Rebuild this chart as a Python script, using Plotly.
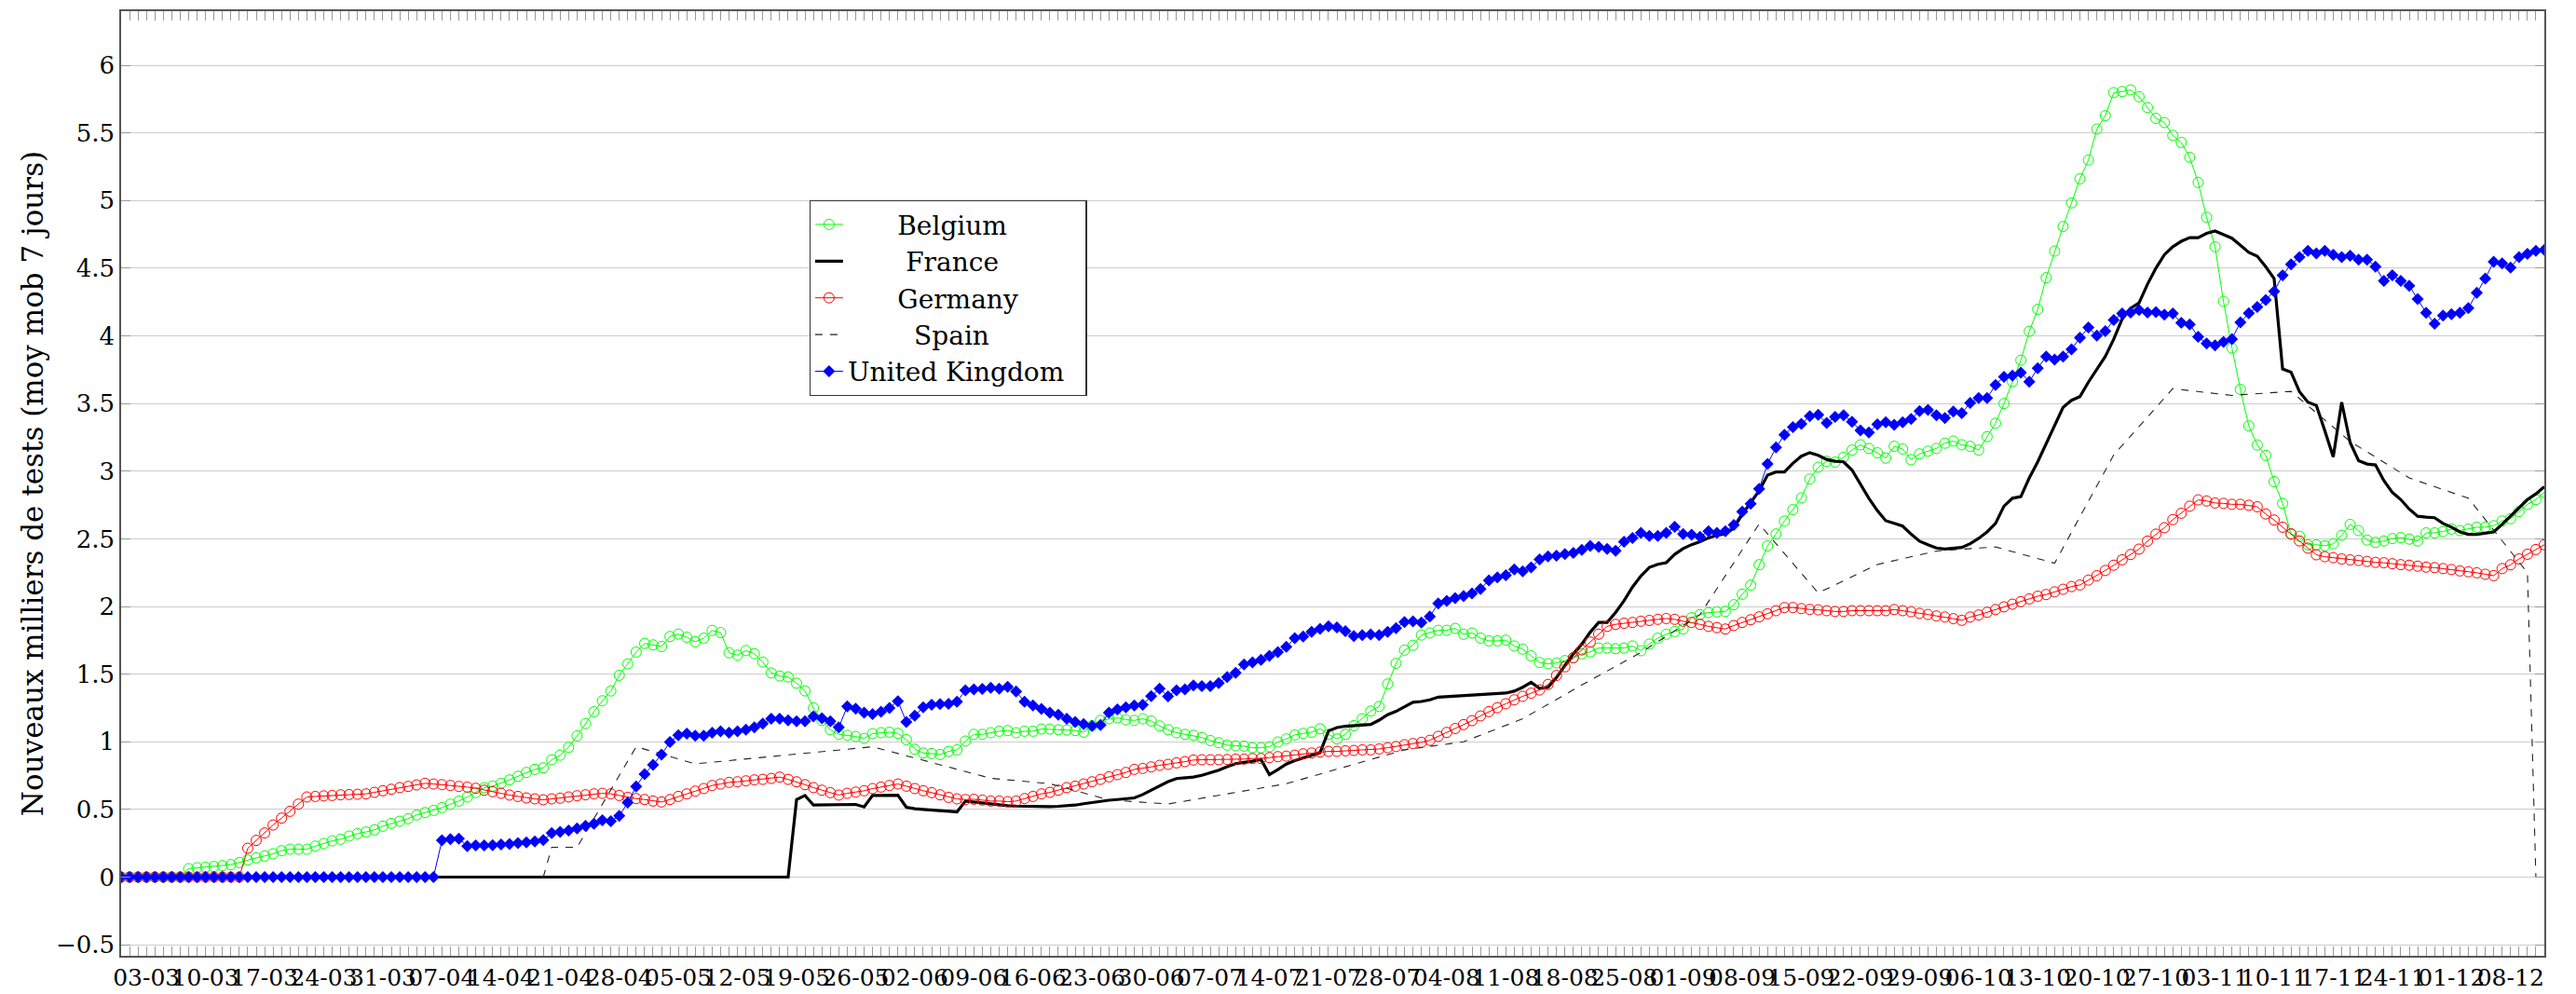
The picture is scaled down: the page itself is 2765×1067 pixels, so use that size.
import pandas as pd
import plotly.graph_objects as go

# daily categories (29-02-2020 .. 12-12-2020)
dates = pd.date_range("2020-02-29", "2020-12-12", freq="D").strftime("%Y-%m-%d").tolist()

tick_labels = ["03-03", "10-03", "17-03", "24-03", "31-03", "07-04", "14-04", "21-04", "28-04",
               "05-05", "12-05", "19-05", "26-05", "02-06", "09-06", "16-06", "23-06", "30-06",
               "07-07", "14-07", "21-07", "28-07", "04-08", "11-08", "18-08", "25-08", "01-09",
               "08-09", "15-09", "22-09", "29-09", "06-10", "13-10", "20-10", "27-10", "03-11",
               "10-11", "17-11", "24-11", "01-12", "08-12"]

belgium = [0, 0, 0, 0, 0, 0, 0, 0,
           0.062, 0.069, 0.073, 0.078, 0.085, 0.092, 0.108, 0.126, 0.142, 0.156, 0.172, 0.195,
           0.206, 0.206, 0.206, 0.229, 0.248, 0.268, 0.28, 0.303, 0.321, 0.333,
           0.349, 0.376, 0.397, 0.413, 0.431, 0.459, 0.477, 0.493, 0.514, 0.539,
           0.562, 0.592, 0.624, 0.661, 0.672, 0.693, 0.718, 0.745, 0.773, 0.796,
           0.807, 0.867, 0.901, 0.959, 1.044, 1.135, 1.222, 1.303, 1.376, 1.491,
           1.576, 1.663, 1.727, 1.716, 1.704, 1.778, 1.796, 1.773, 1.739, 1.766,
           1.823, 1.807, 1.658, 1.64, 1.674, 1.651, 1.589, 1.509, 1.486, 1.479,
           1.433, 1.376, 1.25, 1.158, 1.089, 1.055, 1.048, 1.039, 1.025, 1.06,
           1.067, 1.071, 1.062, 1.016, 0.945, 0.917, 0.913, 0.906, 0.929, 0.94,
           1.005, 1.055, 1.055, 1.067, 1.078, 1.083, 1.067, 1.078, 1.078, 1.094,
           1.094, 1.089, 1.087, 1.083, 1.071, 1.119, 1.158, 1.17, 1.177, 1.163,
           1.158, 1.17, 1.154, 1.117, 1.089, 1.067, 1.055, 1.048, 1.032, 1.009,
           0.993, 0.975, 0.97, 0.968, 0.956, 0.956, 0.963, 0.998, 1.021, 1.05,
           1.062, 1.071, 1.096, 1.055, 1.021, 1.055, 1.119, 1.17, 1.227, 1.261,
           1.427, 1.58, 1.677, 1.713, 1.789, 1.804, 1.824, 1.824, 1.838, 1.795,
           1.804, 1.766, 1.746, 1.746, 1.751, 1.708, 1.685, 1.635, 1.586, 1.577,
           1.583, 1.6, 1.621, 1.65, 1.664, 1.693, 1.693, 1.688, 1.693, 1.708,
           1.673, 1.722, 1.766, 1.795, 1.815, 1.833, 1.917, 1.94, 1.955, 1.96,
           1.963, 2.013, 2.091, 2.158, 2.309, 2.448, 2.536, 2.631, 2.716, 2.803,
           2.942, 3.029, 3.073, 3.067, 3.102, 3.156, 3.195, 3.168, 3.136, 3.097,
           3.184, 3.164, 3.085, 3.128, 3.148, 3.168, 3.207, 3.223, 3.195, 3.184,
           3.156, 3.255, 3.354, 3.5, 3.662, 3.82, 4.034, 4.196, 4.43, 4.627,
           4.809, 4.983, 5.161, 5.3, 5.529, 5.628, 5.798, 5.806, 5.818, 5.767,
           5.688, 5.608, 5.577, 5.482, 5.43, 5.32, 5.134, 4.877, 4.659, 4.255,
           3.91, 3.605, 3.335, 3.194, 3.117, 2.923, 2.762, 2.533, 2.519, 2.456,
           2.456, 2.449, 2.463, 2.526, 2.607, 2.561, 2.491, 2.474, 2.484, 2.502,
           2.509, 2.498, 2.484, 2.544, 2.544, 2.554, 2.572, 2.561, 2.572, 2.586,
           2.586, 2.597, 2.632, 2.649, 2.702, 2.755, 2.79, 2.843]

france = [0] * 80 + [
           0.573, 0.603, 0.532, 0.532, 0.534, 0.535, 0.535, 0.537, 0.518, 0.603,
           0.603, 0.603, 0.605, 0.516, 0.505, 0.5, 0.495, 0.49, 0.482, 0.482,
           0.562, 0.555, 0.545, 0.538, 0.532, 0.528, 0.525, 0.523, 0.522, 0.521,
           0.521, 0.523, 0.527, 0.532, 0.542, 0.552, 0.562, 0.568, 0.573, 0.579,
           0.585, 0.61, 0.64, 0.672, 0.705, 0.728, 0.733, 0.739, 0.752, 0.77,
           0.79, 0.815, 0.838, 0.848, 0.856, 0.87, 0.757, 0.795, 0.835, 0.86,
           0.88, 0.9, 0.92, 1.08, 1.105, 1.115, 1.12, 1.125, 1.128, 1.16,
           1.2, 1.225, 1.26, 1.292, 1.298, 1.31, 1.33, 1.334, 1.336, 1.34,
           1.345, 1.35, 1.353, 1.357, 1.36, 1.374, 1.403, 1.44, 1.394, 1.403,
           1.475, 1.563, 1.65, 1.722, 1.81, 1.882, 1.882, 1.955, 2.042, 2.143,
           2.225, 2.289, 2.312, 2.324, 2.385, 2.428, 2.457, 2.478, 2.507, 2.527,
           2.536, 2.579, 2.681, 2.768, 2.855, 2.971, 2.994, 2.994, 3.058, 3.111,
           3.137, 3.117, 3.087, 3.073, 3.069, 3.009, 2.899, 2.8, 2.709, 2.634,
           2.614, 2.594, 2.535, 2.483, 2.456, 2.432, 2.424, 2.432, 2.436, 2.464,
           2.503, 2.551, 2.614, 2.741, 2.8, 2.812, 2.95, 3.069, 3.207, 3.346,
           3.472, 3.524, 3.551, 3.658, 3.749, 3.848, 3.975, 4.125, 4.204, 4.244,
           4.382, 4.501, 4.6, 4.659, 4.699, 4.726, 4.726, 4.758, 4.775, 4.747,
           4.722, 4.67, 4.617, 4.589, 4.512, 4.424, 3.756, 3.732, 3.588, 3.51,
           3.486, 3.3, 3.106, 3.51, 3.212, 3.078, 3.053, 3.046, 2.93, 2.843,
           2.79, 2.72, 2.667, 2.66, 2.656, 2.614, 2.586, 2.551, 2.533, 2.533,
           2.544, 2.551, 2.607, 2.667, 2.727, 2.79, 2.832, 2.885]

germany = [0] * 15 + [
           0.213, 0.271, 0.326, 0.385, 0.436,
           0.486, 0.539, 0.592, 0.596, 0.6, 0.603, 0.608, 0.61, 0.612, 0.615,
           0.626, 0.638, 0.649, 0.661, 0.67, 0.681, 0.693, 0.688, 0.683, 0.677,
           0.67, 0.665, 0.656, 0.642, 0.631, 0.619, 0.606, 0.596, 0.585, 0.578,
           0.571, 0.578, 0.583, 0.592, 0.601, 0.608, 0.615, 0.619, 0.615, 0.603,
           0.589, 0.58, 0.573, 0.562, 0.555, 0.573, 0.596, 0.615, 0.635, 0.654,
           0.677, 0.688, 0.7, 0.704, 0.711, 0.718, 0.722, 0.729, 0.739, 0.722,
           0.704, 0.683, 0.661, 0.642, 0.624, 0.606, 0.619, 0.628, 0.638, 0.654,
           0.665, 0.677, 0.688, 0.672, 0.654, 0.638, 0.624, 0.608, 0.589, 0.578,
           0.573, 0.575, 0.569, 0.562, 0.562, 0.557, 0.562, 0.58, 0.596, 0.615,
           0.626, 0.642, 0.661, 0.672, 0.688, 0.704, 0.722, 0.741, 0.757, 0.773,
           0.796, 0.803, 0.814, 0.826, 0.833, 0.844, 0.853, 0.865, 0.867, 0.867,
           0.867, 0.869, 0.872, 0.872, 0.876, 0.876, 0.883, 0.89, 0.894, 0.901,
           0.911, 0.917, 0.924, 0.929, 0.929, 0.933, 0.936, 0.94, 0.94, 0.947,
           0.956, 0.965, 0.978, 0.987, 0.996, 1.011, 1.04, 1.069, 1.098, 1.127,
           1.156, 1.191, 1.223, 1.252, 1.281, 1.31, 1.336, 1.359, 1.383, 1.423,
           1.49, 1.554, 1.621, 1.679, 1.737, 1.795, 1.853, 1.868, 1.876, 1.882,
           1.891, 1.897, 1.905, 1.911, 1.905, 1.891, 1.882, 1.868, 1.853, 1.844,
           1.833, 1.859, 1.882, 1.902, 1.923, 1.946, 1.969, 1.992, 1.992, 1.984,
           1.978, 1.975, 1.969, 1.963, 1.963, 1.969, 1.969, 1.969, 1.969, 1.969,
           1.977, 1.969, 1.961, 1.949, 1.941, 1.93, 1.922, 1.91, 1.898, 1.922,
           1.937, 1.957, 1.977, 1.997, 2.017, 2.036, 2.056, 2.076, 2.088, 2.108,
           2.127, 2.147, 2.159, 2.195, 2.227, 2.266, 2.305, 2.345, 2.384, 2.424,
           2.483, 2.535, 2.582, 2.642, 2.689, 2.741, 2.788, 2.78, 2.765, 2.762,
           2.755, 2.755, 2.748, 2.737, 2.684, 2.639, 2.586, 2.537, 2.484, 2.431,
           2.382, 2.368, 2.361, 2.351, 2.344, 2.34, 2.333, 2.326, 2.323, 2.316,
           2.309, 2.305, 2.298, 2.291, 2.287, 2.28, 2.273, 2.263, 2.256, 2.249,
           2.238, 2.228, 2.28, 2.308, 2.351, 2.386, 2.421, 2.456]

# Spain only has sparse (roughly weekly) values
spain_dates = ["2020-04-19", "2020-04-20", "2020-04-23", "2020-04-30", "2020-05-07",
               "2020-05-28", "2020-06-11", "2020-06-18", "2020-06-25", "2020-07-02",
               "2020-07-16", "2020-07-30", "2020-08-06", "2020-08-13", "2020-08-20",
               "2020-08-27", "2020-09-03", "2020-09-10", "2020-09-17", "2020-09-24",
               "2020-10-01", "2020-10-08", "2020-10-15", "2020-10-22", "2020-10-29",
               "2020-11-05", "2020-11-12", "2020-11-19", "2020-11-26", "2020-12-03",
               "2020-12-10", "2020-12-11"]
spain = [0.0, 0.22, 0.22, 0.963, 0.837,
         0.963, 0.73, 0.69, 0.57, 0.54,
         0.69, 0.94, 1.0, 1.17, 1.42,
         1.66, 1.94, 2.61, 2.1, 2.31,
         2.41, 2.44, 2.32, 3.12, 3.61,
         3.56, 3.59, 3.22, 2.95, 2.8,
         2.25, 0.0]

uk = [0] * 38 + [
      0.271, 0.28,
      0.284, 0.229, 0.234, 0.234, 0.236, 0.241, 0.245, 0.252, 0.257, 0.264,
      0.273, 0.325, 0.333, 0.344, 0.36, 0.378, 0.394, 0.42, 0.413, 0.452,
      0.55, 0.67, 0.761, 0.83, 0.906, 0.998, 1.048, 1.06, 1.044, 1.044,
      1.067, 1.078, 1.067, 1.078, 1.089, 1.106, 1.135, 1.17, 1.17, 1.158,
      1.151, 1.151, 1.188, 1.174, 1.151, 1.106, 1.261, 1.245, 1.216, 1.204,
      1.222, 1.25, 1.3, 1.147, 1.193, 1.255, 1.273, 1.278, 1.28, 1.296,
      1.381, 1.388, 1.39, 1.4, 1.392, 1.406, 1.372, 1.296, 1.268, 1.243,
      1.216, 1.2, 1.17, 1.147, 1.131, 1.117, 1.124, 1.216, 1.239, 1.255,
      1.268, 1.273, 1.337, 1.392, 1.335, 1.381, 1.388, 1.417, 1.411, 1.411,
      1.433, 1.479, 1.509, 1.571, 1.587, 1.606, 1.635, 1.663, 1.702, 1.766,
      1.778, 1.812, 1.835, 1.853, 1.846, 1.817, 1.782, 1.789, 1.794, 1.789,
      1.812, 1.84, 1.885, 1.89, 1.882, 1.926, 2.022, 2.042, 2.062, 2.077,
      2.097, 2.129, 2.193, 2.216, 2.231, 2.274, 2.26, 2.289, 2.347, 2.37,
      2.376, 2.387, 2.396, 2.419, 2.448, 2.44, 2.425, 2.411, 2.478, 2.507,
      2.544, 2.521, 2.521, 2.544, 2.588, 2.536, 2.53, 2.515, 2.556, 2.544,
      2.556, 2.602, 2.701, 2.759, 2.87, 3.053, 3.175, 3.268, 3.326, 3.349,
      3.407, 3.416, 3.356, 3.401, 3.413, 3.366, 3.302, 3.286, 3.346, 3.362,
      3.342, 3.362, 3.385, 3.445, 3.453, 3.413, 3.393, 3.441, 3.429, 3.504,
      3.54, 3.54, 3.638, 3.698, 3.706, 3.729, 3.662, 3.761, 3.848, 3.824,
      3.848, 3.9, 3.987, 4.062, 4.002, 4.034, 4.117, 4.165, 4.172, 4.192,
      4.172, 4.176, 4.157, 4.165, 4.097, 4.085, 3.994, 3.943, 3.93, 3.955,
      3.977, 4.1, 4.167, 4.213, 4.266, 4.329, 4.448, 4.529, 4.582, 4.628,
      4.61, 4.628, 4.599, 4.582, 4.592, 4.564, 4.564, 4.512, 4.406, 4.448,
      4.406, 4.371, 4.273, 4.171, 4.09, 4.15, 4.16, 4.171, 4.206, 4.318,
      4.424, 4.547, 4.536, 4.505, 4.582, 4.606, 4.628, 4.635]

for name, s in [("belgium", belgium), ("france", france), ("germany", germany), ("uk", uk)]:
    assert len(s) == len(dates), (name, len(s), len(dates))
assert len(spain) == len(spain_dates)

tick_vals = ["2020-%s-%s" % (lab[3:], lab[:2]) for lab in tick_labels]

FONT = "DejaVu Serif"
NB = "\u00a0"

fig = go.Figure()
fig.add_trace(go.Scatter(x=dates, y=belgium, name=NB * 6 + "Belgium", mode="lines+markers",
                         line=dict(color="#00ff00", width=1),
                         marker=dict(symbol="circle-open", size=11, color="#00ff00",
                                     line=dict(width=1, color="#00ff00"))))
fig.add_trace(go.Scatter(x=dates, y=france, name=NB * 7 + "France", mode="lines",
                         line=dict(color="#000000", width=3.2)))
fig.add_trace(go.Scatter(x=dates, y=germany, name=NB * 6 + "Germany", mode="lines+markers",
                         line=dict(color="#ff0000", width=1),
                         marker=dict(symbol="circle-open", size=11, color="#ff0000",
                                     line=dict(width=1, color="#ff0000"))))
fig.add_trace(go.Scatter(x=spain_dates, y=spain, name=NB * 8 + "Spain", mode="lines",
                         line=dict(color="#222222", width=1.1, dash="8px,8px")))
fig.add_trace(go.Scatter(x=dates, y=uk, name="United Kingdom" + NB * 2, mode="lines+markers",
                         line=dict(color="#0000ff", width=1),
                         marker=dict(symbol="diamond", size=10, color="#0000ff",
                                     line=dict(width=0))))

# the page body has an 8px margin: the figure is offset by 8px (left/top)
fig.update_layout(
    width=2749, height=1059,
    margin=dict(l=122, r=26, t=4, b=41),
    paper_bgcolor="white", plot_bgcolor="white",
    font=dict(family=FONT, size=26, color="#000"),
    showlegend=True,
    legend=dict(x=0.284, y=0.7998, xanchor="left", yanchor="top",
                bordercolor="#333", borderwidth=1.2, bgcolor="white",
                font=dict(family=FONT, size=28), tracegroupgap=0),
    xaxis=dict(type="date", range=["2020-02-29", "2020-12-12"], automargin=False,
               tickmode="array", tickvals=tick_vals, ticktext=tick_labels, tickangle=0,
               ticks="inside", ticklen=10, tickcolor="#999", tickwidth=1,
               showline=True, linecolor="#555", linewidth=1.5, mirror="ticks",
               showgrid=False, zeroline=False,
               tickfont=dict(family=FONT, size=25),
               minor=dict(dtick=86400000, tick0="2020-02-29", ticks="inside",
                          ticklen=10, tickcolor="#999", tickwidth=1, showgrid=False)),
    yaxis=dict(range=[-0.582, 6.40], tick0=0, dtick=0.5, automargin=False,
               ticks="inside", ticklen=10, tickcolor="#999", tickwidth=1,
               showline=True, linecolor="#555", linewidth=1.5, mirror="ticks",
               showgrid=True, gridcolor="#cccccc", gridwidth=1.2, zeroline=False,
               tickfont=dict(family=FONT, size=26),
               title=dict(text="Nouveaux milliers de tests (moy mob 7 jours)",
                          font=dict(family=FONT, size=31), standoff=4)),
)

fig.write_html("out.html")
